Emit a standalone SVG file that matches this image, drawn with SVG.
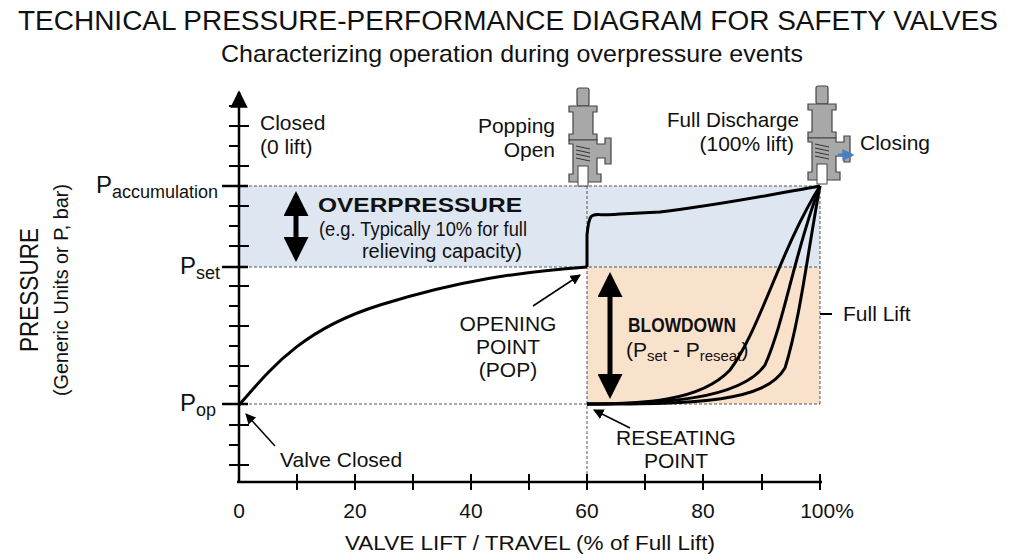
<svg xmlns="http://www.w3.org/2000/svg" width="1024" height="559" viewBox="0 0 1024 559">
<style>
text{font-family:"Liberation Sans",Arial,sans-serif;fill:#111}
.t{font-size:21px}
.ax{stroke:#000;stroke-width:2.5;fill:none}
.tk{stroke:#000;stroke-width:2}
.dash{stroke:#555;stroke-width:1;stroke-dasharray:3,2;fill:none}
.cv{stroke:#000;stroke-width:3;fill:none}
.thin{stroke:#000;stroke-width:1.5;fill:none}
.vb{fill:#a8a8a8;stroke:#444;stroke-width:1.2}
</style>
<defs>
<marker id="ah" viewBox="0 0 10 10" refX="9" refY="5" markerWidth="7" markerHeight="7" orient="auto-start-reverse"><path d="M0,0L10,5L0,10z" fill="#000"/></marker>
<marker id="big" viewBox="0 0 10 10" refX="8" refY="5" markerWidth="5" markerHeight="5" orient="auto-start-reverse"><path d="M0,0L10,5L0,10z" fill="#000"/></marker>
<marker id="blue" viewBox="0 0 10 10" refX="8" refY="5" markerWidth="4" markerHeight="4" orient="auto"><path d="M0,0L10,5L0,10z" fill="#4a7fc0"/></marker>
<g id="valve">
<rect x="-6" y="0" width="12" height="18" rx="2" class="vb"/>
<path d="M-14,18 h28 v6 h-4 v22 h4 v6 h-28 v-6 h4 v-22 h-4z" class="vb"/>
<path d="M-14,52 h28 v4 h8 v-6 h6 v26 h-6 v-6 h-8 v16 h4 v8 h-32 v-8 h4 v-30 h-4z" class="vb"/>
<path d="M-7,58 l14,3 M-7,62 l14,3 M-7,66 l14,3 M-7,70 l14,3" stroke="#333" stroke-width="1"/>
<rect x="-5" y="78" width="10" height="20" fill="#fff" stroke="#444"/>
</g>
</defs>
<text x="508" y="30" text-anchor="middle" font-size="27" textLength="980" lengthAdjust="spacingAndGlyphs">TECHNICAL PRESSURE-PERFORMANCE DIAGRAM FOR SAFETY VALVES</text>
<text x="512" y="62" text-anchor="middle" font-size="24" textLength="582" lengthAdjust="spacingAndGlyphs">Characterizing operation during overpressure events</text>
<g id="regions">
<rect x="239" y="186" width="581" height="81" fill="#dde6f1"/>
<rect x="587" y="267" width="233" height="137" fill="#f9e2cc"/>
<path d="M239,186H820M239,267H820M239,404H820M587,186V478M820,186V404" class="dash"/>
</g>
<g id="axes">
<path d="M239,482V92" class="ax" marker-end="url(#ah)"/>
<path d="M237,482H822" class="ax"/>
<path class="tk" d="M229,106h10M229,126h20M229,146h10M229,166h20M229,206h20M229,226h10M229,246h20M229,286h20M229,306h10M229,326h20M229,346h10M229,366h20M229,386h10M229,425h20M229,445h10M229,465h20"/>
<path class="ax" d="M222,186h26M222,267h26M222,404h26"/>
<path class="tk" d="M297,474v16M355,474v16M413,474v16M471,474v16M529,474v16M587,474v16M645,474v16M703,474v16M762,474v16M820,474v16"/>
<path class="tk" d="M820,314h12"/>
</g>
<g id="labels">
<text x="239" y="518" text-anchor="middle" class="t">0</text>
<text x="355" y="518" text-anchor="middle" class="t">20</text>
<text x="471" y="518" text-anchor="middle" class="t">40</text>
<text x="587" y="518" text-anchor="middle" class="t">60</text>
<text x="703" y="518" text-anchor="middle" class="t">80</text>
<text x="827" y="518" text-anchor="middle" class="t">100%</text>
<text x="530" y="550" text-anchor="middle" class="t" textLength="370" lengthAdjust="spacingAndGlyphs">VALVE LIFT / TRAVEL (% of Full Lift)</text>
<text transform="translate(38,290) rotate(-90)" text-anchor="middle" font-size="26" textLength="124" lengthAdjust="spacingAndGlyphs">PRESSURE</text>
<text transform="translate(68,290) rotate(-90)" text-anchor="middle" class="t" textLength="212" lengthAdjust="spacingAndGlyphs">(Generic Units or P, bar)</text>
<text x="96" y="193" font-size="24">P<tspan font-size="18" dy="5">accumulation</tspan></text>
<text x="180" y="274" font-size="24">P<tspan font-size="18" dy="5">set</tspan></text>
<text x="180" y="411" font-size="24">P<tspan font-size="18" dy="5">op</tspan></text>
<text x="260" y="130" class="t">Closed</text>
<text x="260" y="154" class="t">(0 lift)</text>
<text x="555" y="133" text-anchor="end" class="t">Popping</text>
<text x="555" y="157" text-anchor="end" class="t">Open</text>
<text x="799" y="127" text-anchor="end" class="t" textLength="132" lengthAdjust="spacingAndGlyphs">Full Discharge</text>
<text x="794" y="151" text-anchor="end" class="t">(100% lift)</text>
<text x="860" y="150" class="t">Closing</text>
<text x="420" y="212" text-anchor="middle" font-size="21" font-weight="bold" textLength="204" lengthAdjust="spacingAndGlyphs">OVERPRESSURE</text>
<text x="423" y="236" text-anchor="middle" font-size="20" textLength="208" lengthAdjust="spacingAndGlyphs">(e.g. Typically 10% for full</text>
<text x="442" y="258" text-anchor="middle" font-size="20">relieving capacity)</text>
<text x="628" y="332" font-size="20" font-weight="bold" textLength="108" lengthAdjust="spacingAndGlyphs">BLOWDOWN</text>
<text x="626" y="357" class="t">(P<tspan font-size="15" dy="4">set</tspan><tspan dy="-4"> - P</tspan><tspan font-size="15" dy="4">reseat</tspan><tspan dy="-4">)</tspan></text>
<text x="508" y="331" text-anchor="middle" class="t">OPENING</text>
<text x="508" y="354" text-anchor="middle" class="t">POINT</text>
<text x="508" y="377" text-anchor="middle" class="t">(POP)</text>
<text x="676" y="445" text-anchor="middle" class="t">RESEATING</text>
<text x="676" y="468" text-anchor="middle" class="t">POINT</text>
<text x="280" y="467" class="t">Valve Closed</text>
<text x="843" y="321" class="t">Full Lift</text>
</g>
<g id="icons">
<use href="#valve" x="583" y="88"/>
<use href="#valve" x="822" y="86"/>
<path d="M838,155h14" stroke="#4a7fc0" stroke-width="3" marker-end="url(#blue)"/>
</g>
<g id="connectors">
<path class="cv" d="M239,405C270,370 300,330 380,305S520,272 587,267"/>
<path class="cv" d="M587,267V235C590,205 592,218 620,214L660,212C720,205 780,193 820,186"/>
<path class="cv" d="M820,186C780,250 760,330 730,370C700,402 640,404 587,404"/>
<path class="cv" d="M820,186C795,250 785,320 765,365C740,400 660,404 587,404"/>
<path class="cv" d="M820,186C808,250 800,320 785,368C765,402 700,404 587,404"/>
<path class="thin" d="M533,306L580,275" marker-end="url(#ah)"/>
<path class="thin" d="M630,428L594,410" marker-end="url(#ah)"/>
<path class="thin" d="M275,446L246,414" marker-end="url(#ah)"/>
<path d="M296,196V257" stroke="#000" stroke-width="5" marker-start="url(#big)" marker-end="url(#big)"/>
<path d="M610,277V394" stroke="#000" stroke-width="5" marker-start="url(#big)" marker-end="url(#big)"/>
</g>
</svg>
